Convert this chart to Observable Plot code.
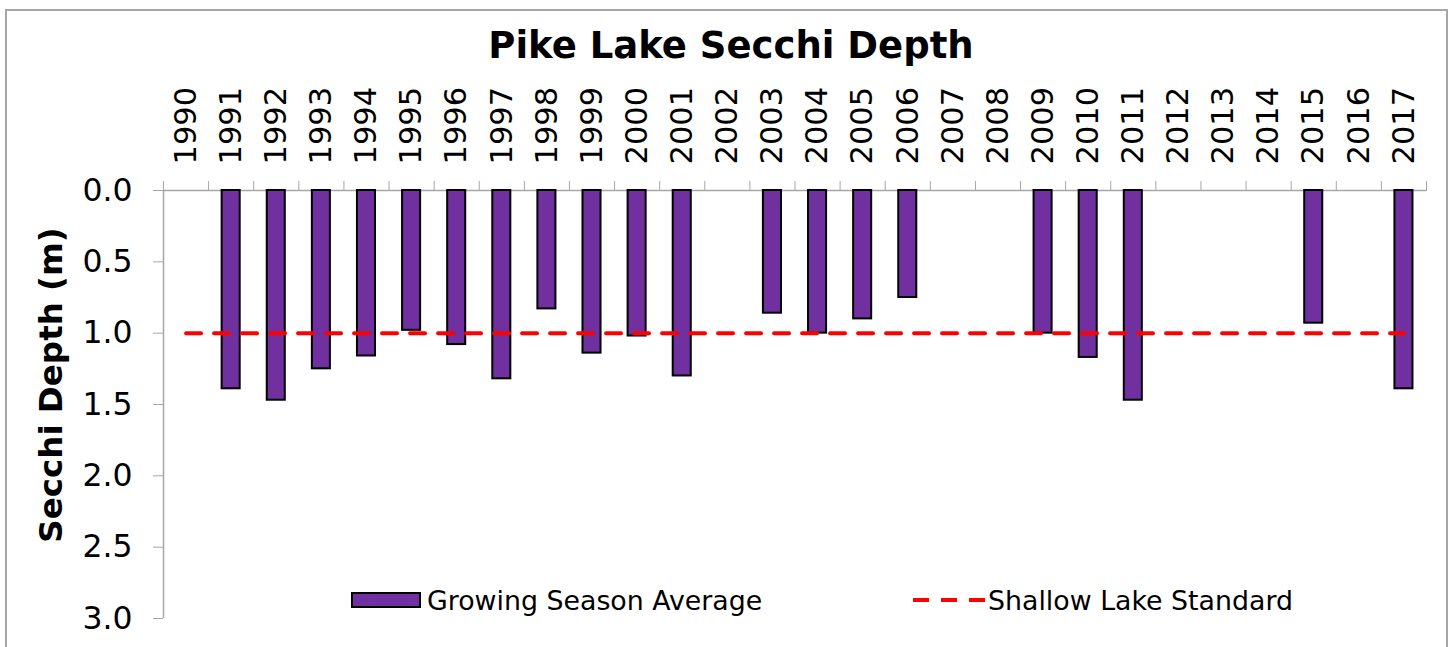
<!DOCTYPE html>
<html>
<head>
<meta charset="utf-8">
<script src="https://cdn.jsdelivr.net/npm/d3@7"></script>
<script src="https://cdn.jsdelivr.net/npm/@observablehq/plot@0.6"></script>
<style>
  html, body { margin: 0; padding: 0; background: #fff; }
  #wrap { position: relative; width: 1452px; height: 647px; overflow: hidden; font-family: "DejaVu Sans", Verdana, sans-serif; color: #000; }
  #frame { position: absolute; left: 5px; top: 9px; width: 1443px; height: 700px; border: 2px solid #a6a6a6; box-sizing: border-box; }
  #title { position: absolute; left: 231px; width: 1000px; top: 24px; text-align: center; font-weight: bold; font-size: 37px; line-height: 44px; }
  #ylabel { position: absolute; left: -149px; width: 400px; top: 365px; height: 40px; line-height: 40px; text-align: center; font-weight: bold; font-size: 32.5px; transform: rotate(-90deg); white-space: nowrap; }
  #chart { position: absolute; left: 0; top: 80px; }
  .leg { position: absolute; top: 584px; height: 32px; display: flex; align-items: center; font-size: 26.8px; white-space: nowrap; }
  .sw { width: 66px; height: 12px; border: 2px solid #000; background: #7030A0; margin-right: 6px; }
</style>
</head>
<body>
<div id="wrap">
  <div id="frame"></div>
  <div id="title">Pike Lake Secchi Depth</div>
  <div id="chart"></div>
  <div id="ylabel">Secchi Depth (m)</div>
  <div class="leg" style="left:351px"><div class="sw"></div><span>Growing Season Average</span></div>
  <div class="leg" style="left:913px"><svg width="74" height="8" style="margin-right:1px"><line x1="0" x2="72" y1="4" y2="4" stroke="#ff0000" stroke-width="4" stroke-dasharray="16,12"/></svg><span>Shallow Lake Standard</span></div>
</div>
<script>
const years = [1990, 1991, 1992, 1993, 1994, 1995, 1996, 1997, 1998, 1999, 2000, 2001, 2002, 2003,
               2004, 2005, 2006, 2007, 2008, 2009, 2010, 2011, 2012, 2013, 2014, 2015, 2016, 2017];
const secchiDepth = [null, 1.39, 1.47, 1.25, 1.16, 0.98, 1.08, 1.32, 0.83, 1.14, 1.02, 1.30, null, 0.86,
                     1.00, 0.90, 0.75, null, null, 1.00, 1.17, 1.47, null, null, null, 0.93, null, 1.39];
const shallowLakeStandard = 1.0;
const yTicks = [0, 0.5, 1.0, 1.5, 2.0, 2.5, 3.0];

const data = years.map((year, i) => ({year, depth: secchiDepth[i]})).filter(d => d.depth != null);
const boundaries = years.map(y => y - 0.5).concat([years[years.length - 1] + 0.5]);
const standardLine = years.map(year => ({year, value: shallowLakeStandard}));

const axisGray = "#a6a6a6";

const chart = Plot.plot({
  width: 1452,
  height: 567,
  marginTop: 110,
  marginBottom: 29,
  marginLeft: 163,
  marginRight: 26,
  x: {domain: [years[0] - 0.5, years[years.length - 1] + 0.5]},
  y: {domain: [0, 3], reverse: true},
  style: {fontFamily: "'DejaVu Sans', Verdana, sans-serif", fontSize: "30px", color: "#000", background: "transparent", overflow: "visible"},
  marks: [
    Plot.axisY(yTicks, {tickSize: 10, tickPadding: 21, tickFormat: d => d.toFixed(1), stroke: axisGray, fill: "#000", fontSize: 31.5, label: null}),
    Plot.axisX(years, {anchor: "top", tickSize: 0, tickPadding: 26, tickRotate: -90, tickFormat: d => String(d), fill: "#000", fontSize: 30.5, label: null}),
    Plot.axisX(boundaries, {anchor: "top", tickSize: 10, tickPadding: 0, tickFormat: () => "", stroke: axisGray, label: null}),
    Plot.ruleX([years[0] - 0.5], {y1: 0, y2: 3, stroke: axisGray, strokeWidth: 1.5}),
    Plot.ruleY([0], {stroke: axisGray, strokeWidth: 1.5}),
    Plot.rectY(data, {x1: d => d.year - 0.2, x2: d => d.year + 0.2, y1: 0, y2: "depth", fill: "#7030A0", stroke: "#000", strokeWidth: 2}),
    Plot.lineY(standardLine, {x: "year", y: "value", stroke: "#ff0000", strokeWidth: 4, strokeDasharray: "15,13"})
  ]
});
document.getElementById("chart").appendChild(chart);
</script>
</body>
</html>
